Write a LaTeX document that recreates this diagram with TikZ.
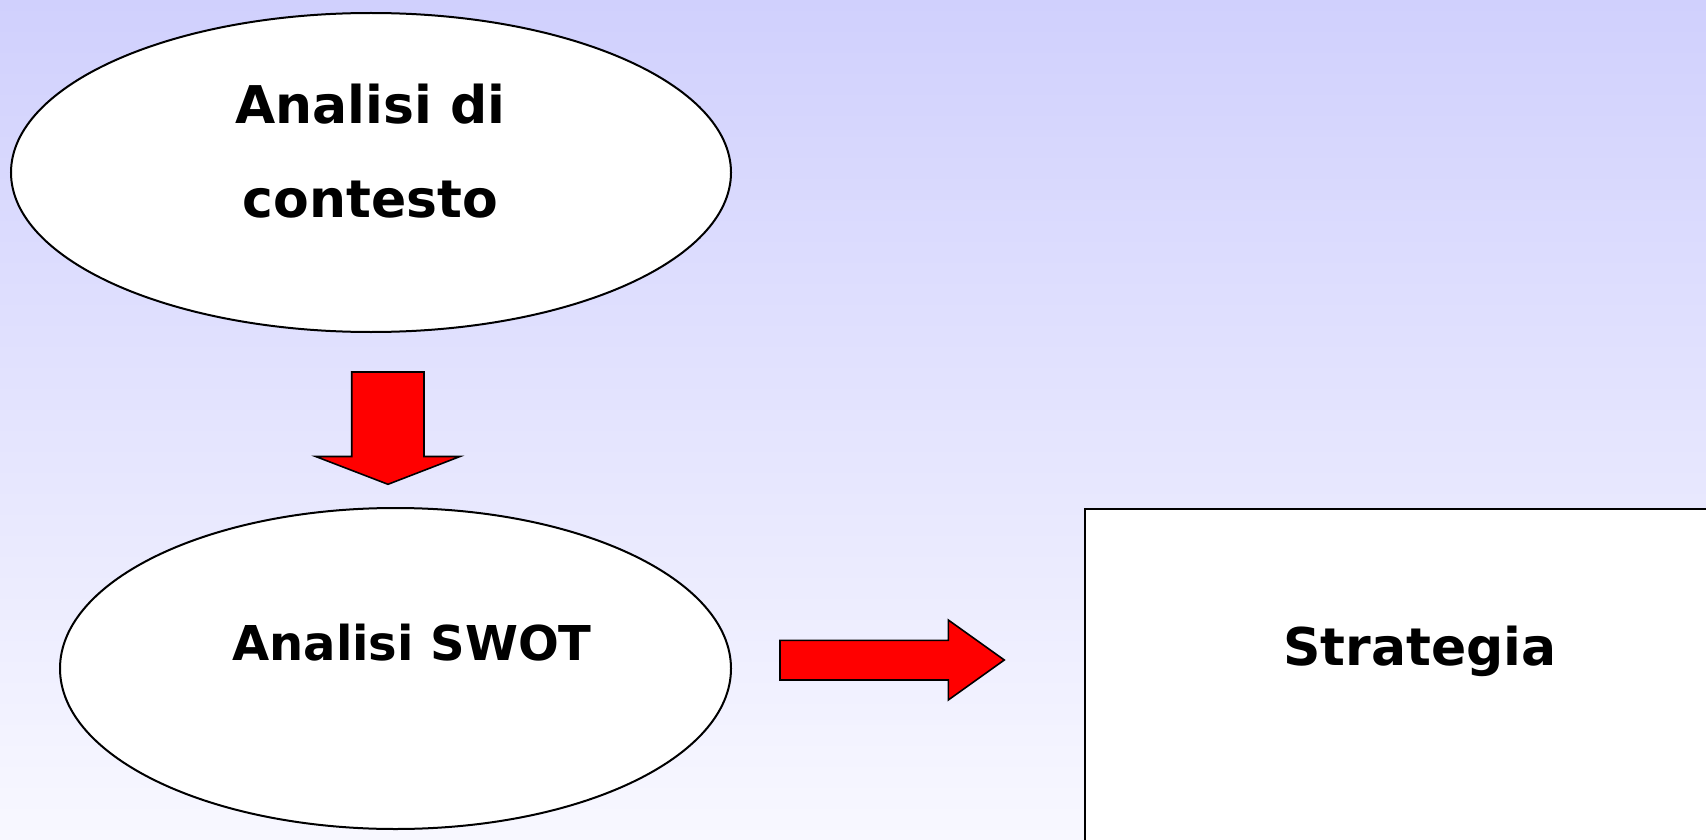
\documentclass[tikz,border=0pt]{standalone}
\usepackage{fontspec}
\setmainfont{DejaVu Sans}
\usetikzlibrary{shapes.geometric}
\definecolor{bgtop}{RGB}{208,208,253}
\definecolor{bgbot}{RGB}{248,248,255}
\definecolor{arrred}{RGB}{255,0,0}
\tikzset{
  oval/.style={ellipse, draw=black, line width=2pt, fill=white, inner sep=0pt},
  bigtext/.style={font=\fontsize{52}{95}\selectfont\bfseries, anchor=base, align=center, inner sep=0pt},
  midtext/.style={font=\fontsize{48}{60}\selectfont\bfseries, anchor=base, inner sep=0pt},
  blockarrow/.style={fill=arrred, draw=black, line width=1.6pt, line join=miter},
  box/.style={draw=black, line width=2pt, fill=white}
}
\begin{document}
\begin{tikzpicture}[x=1pt,y=-1pt]
\useasboundingbox (0,0) rectangle (1706,840);
\shade[top color=bgtop, bottom color=bgbot] (0,0) rectangle (1706,840);
\begin{scope}
\clip (0,0) rectangle (1706,840);
% ellipses
\node[oval, minimum width=720pt, minimum height=319pt] (ctx) at (371,172.5) {};
\node[oval, minimum width=671pt, minimum height=321pt] (swot) at (395.5,668.5) {};
% strategy box
\node[box, minimum width=640pt, minimum height=350pt, anchor=north west] (strat) at (1083.5,508) {};
% texts
\node[bigtext] (ctxt) at (370.5,218) {Analisi di\\contesto};
\node[midtext] (swott) at (412,660.7) {Analisi SWOT};
\node[bigtext] (stratt) at (1420,665) {Strategia};
\end{scope}
% down arrow
\draw[blockarrow] (351.7,372) -- (424,372) -- (424,456.5) -- (460,456.5) -- (388,484.3) -- (315.7,456.5) -- (351.7,456.5) -- cycle;
% right arrow
\draw[blockarrow] (780,640.3) -- (948.3,640.3) -- (948.3,620) -- (1004.3,660) -- (948.3,700) -- (948.3,680) -- (780,680) -- cycle;
\end{tikzpicture}
\end{document}
